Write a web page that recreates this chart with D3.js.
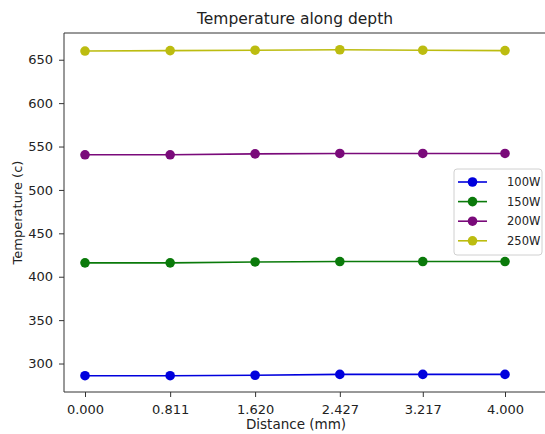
<!DOCTYPE html>
<html>
<head>
<meta charset="utf-8">
<script src="https://cdn.jsdelivr.net/npm/d3@7"></script>
<style>
  body { margin: 0; background: #fff; }
  svg { font-family: "DejaVu Sans", sans-serif; }
</style>
</head>
<body>
<svg id="chart" width="545" height="434"></svg>
<script>
// data
const distances = [0.000, 0.811, 1.620, 2.427, 3.217, 4.000];
const tickLabels = ["0.000", "0.811", "1.620", "2.427", "3.217", "4.000"];
const seriesNames = ["100W", "150W", "200W", "250W"];
const seriesColors = ["#0000dd", "#0a7a0a", "#7a0a7a", "#bcbc10"];
const temp100 = [286, 286, 286.5, 287.5, 287.5, 287.5];
const temp150 = [416, 416, 417, 417.5, 417.5, 417.5];
const temp200 = [540.5, 540.5, 541.5, 542, 542, 542];
const temp250 = [660, 660.5, 661, 661.5, 661, 660.5];
const yTicks = [300, 350, 400, 450, 500, 550, 600, 650];

const series = [temp100, temp150, temp200, temp250].map((vals, i) => ({
  name: seriesNames[i], color: seriesColors[i],
  points: vals.map((v, j) => ({ x: distances[j], y: v }))
}));

const svg = d3.select("#chart");
const plotL = 64, plotR = 526, plotT = 33, plotB = 392;

const x = d3.scaleLinear().domain([-0.2, 4.2]).range([plotL, plotR]);
const y = d3.scaleLinear().domain([267.2, 680.8]).range([plotB, plotT]);

// spines (image is cropped on the right, so no right spine)
const spine = svg.append("g").attr("stroke", "#333").attr("stroke-width", 1).attr("fill", "none");
spine.append("line").attr("x1", plotL).attr("x2", plotL).attr("y1", plotT).attr("y2", plotB);
spine.append("line").attr("x1", plotL).attr("x2", 545).attr("y1", plotB).attr("y2", plotB);
spine.append("line").attr("x1", plotL).attr("x2", 545).attr("y1", plotT).attr("y2", plotT);

// axes
const xAxis = d3.axisBottom(x).tickValues(distances)
  .tickFormat((d, i) => tickLabels[i]).tickSize(5).tickPadding(8);
const gx = svg.append("g").attr("transform", `translate(0,${plotB})`).call(xAxis);
gx.select(".domain").remove();

const yAxis = d3.axisLeft(y).tickValues(yTicks).tickSize(5).tickPadding(6);
const gy = svg.append("g").attr("transform", `translate(${plotL},0)`).call(yAxis);
gy.select(".domain").remove();

svg.selectAll(".tick text").attr("font-size", 13).attr("fill", "#222")
  .attr("font-family", "DejaVu Sans, sans-serif");
svg.selectAll(".tick line").attr("stroke", "#333");

// lines and markers
const line = d3.line().x(d => x(d.x)).y(d => y(d.y));
const gs = svg.append("g").selectAll("g").data(series).join("g");
gs.append("path").attr("d", d => line(d.points))
  .attr("fill", "none").attr("stroke", d => d.color).attr("stroke-width", 1.6);
gs.selectAll("circle").data(d => d.points.map(p => ({ ...p, color: d.color }))).join("circle")
  .attr("cx", d => x(d.x)).attr("cy", d => y(d.y)).attr("r", 4.8)
  .attr("fill", d => d.color);

// title and axis labels
svg.append("text").attr("x", (plotL + plotR) / 2).attr("y", 24)
  .attr("text-anchor", "middle").attr("font-size", 15.5).attr("fill", "#222")
  .text("Temperature along depth");
svg.append("text").attr("x", (plotL + plotR) / 2 + 1).attr("y", 429)
  .attr("text-anchor", "middle").attr("font-size", 13.5).attr("fill", "#222")
  .text("Distance (mm)");
svg.append("text").attr("transform", `translate(22,${(plotT + plotB) / 2}) rotate(-90)`)
  .attr("text-anchor", "middle").attr("font-size", 13).attr("fill", "#222")
  .text("Temperature (c)");

// legend
const lg = svg.append("g").attr("transform", "translate(454,169)");
lg.append("rect").attr("width", 88).attr("height", 86).attr("rx", 3)
  .attr("fill", "#fff").attr("fill-opacity", 0.85).attr("stroke", "#d0d0d0");
const item = lg.selectAll("g.item").data(series).join("g").attr("class", "item")
  .attr("transform", (d, i) => `translate(0,${13 + i * 19.6})`);
item.append("line").attr("x1", 4).attr("x2", 33)
  .attr("stroke", d => d.color).attr("stroke-width", 1.6);
item.append("circle").attr("cx", 18.5).attr("r", 4.8).attr("fill", d => d.color);
item.append("text").attr("x", 53).attr("dy", "0.35em").attr("font-size", 11.5)
  .attr("fill", "#222").text(d => d.name);
</script>
</body>
</html>
